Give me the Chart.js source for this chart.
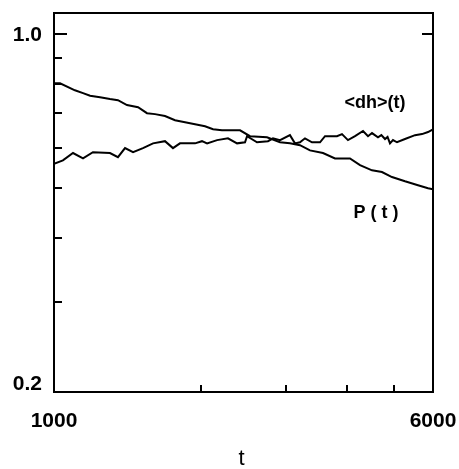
<!DOCTYPE html>
<html>
<head>
<meta charset="utf-8">
<script src="https://cdn.jsdelivr.net/npm/chart.js@4.4.0/dist/chart.umd.min.js"></script>
<style>
html,body{margin:0;padding:0;background:#fff;}
canvas{display:block;}
</style>
</head>
<body>
<canvas id="c" width="459" height="469"></canvas>
<script>
// ---- data ----
const pT = [1000,1029,1104,1147,1186,1243,1303,1353,1412,1488,1552,1612,1690,1772,1858,1948,2042,2121,2212,2410,2526,2737,2911,3051,3199,3354,3567,3775,4052,4249,4497,4714,4942,5256,5589,5861,6000];
const pVal = [0.802,0.802,0.777,0.767,0.758,0.753,0.747,0.743,0.727,0.720,0.701,0.698,0.692,0.679,0.673,0.667,0.661,0.652,0.649,0.649,0.632,0.629,0.615,0.612,0.607,0.593,0.586,0.572,0.572,0.555,0.542,0.538,0.526,0.516,0.507,0.500,0.498];
const dhT = [1000,1043,1094,1147,1202,1303,1353,1399,1453,1523,1597,1690,1755,1814,1948,2013,2062,2162,2276,2376,2467,2491,2611,2750,2816,2911,3051,3124,3199,3276,3386,3517,3601,3811,3902,4014,4150,4310,4413,4497,4626,4700,4782,4840,4896,4966,5061,5256,5511,5696,5861,6000];
const dhVal = [0.558,0.567,0.586,0.572,0.588,0.586,0.575,0.599,0.588,0.599,0.612,0.618,0.599,0.612,0.612,0.618,0.612,0.621,0.626,0.612,0.615,0.632,0.615,0.618,0.626,0.621,0.635,0.612,0.615,0.626,0.615,0.615,0.632,0.632,0.638,0.621,0.632,0.647,0.632,0.641,0.629,0.635,0.624,0.630,0.612,0.621,0.615,0.624,0.635,0.638,0.644,0.652];
const xMin = 1000, xMax = 6000;
const yMin = 0.2, yMax = 1.1;
const yTicks = [0.3,0.4,0.5,0.6,0.7,0.8,0.9,1.0];
const xTicks = [2000,3000,4000,5000];
const xLabels = [1000, 6000];
const yLabels = [{v:1.0, text:'1.0'},{v:0.2, text:'0.2'}];
const seriesLabels = [{text:'<dh>(t)', t:4561, v:0.733}, {text:'P ( t )', t:4580, v:0.447}];
const xTitle = 't';

const toXY = (ts, vs) => ts.map((t,i)=>({x:t, y:vs[i]}));

const framePlugin = {
  id:'frame',
  afterDatasetsDraw(chart){
    const ctx = chart.ctx, a = chart.chartArea;
    const xs = chart.scales.x, ys = chart.scales.y;
    ctx.save();
    ctx.strokeStyle = '#000';
    ctx.lineWidth = 2;
    ctx.strokeRect(a.left, a.top, a.right-a.left, a.bottom-a.top);
    ctx.beginPath();
    yTicks.forEach(v=>{
      const y = Math.round(ys.getPixelForValue(v));
      const len = (v===1.0) ? 13 : 8;
      ctx.moveTo(a.left, y); ctx.lineTo(a.left+len, y);
    });
    const y1 = Math.round(ys.getPixelForValue(1.0));
    ctx.moveTo(a.right, y1); ctx.lineTo(a.right-11, y1);
    xTicks.forEach(t=>{
      const x = Math.round(xs.getPixelForValue(t));
      ctx.moveTo(x, a.bottom); ctx.lineTo(x, a.bottom-7);
    });
    ctx.stroke();
    ctx.fillStyle = '#000';
    ctx.font = 'bold 21px "Liberation Sans", Arial, sans-serif';
    ctx.textAlign = 'right'; ctx.textBaseline = 'middle';
    yLabels.forEach(l=>{
      let y = ys.getPixelForValue(l.v);
      if (l.v === yMin) y -= 9;
      ctx.fillText(l.text, a.left-12, y+1);
    });
    ctx.textAlign = 'center';
    xLabels.forEach(t=>{
      ctx.fillText(String(t), xs.getPixelForValue(t), a.bottom+29);
    });
    ctx.font = '22px "Liberation Sans", Arial, sans-serif';
    ctx.fillText(xTitle, (a.left+a.right)/2 - 2, a.bottom+67);
    ctx.font = 'bold 18px "Liberation Sans", Arial, sans-serif';
    seriesLabels.forEach(l=>{
      ctx.fillText(l.text, xs.getPixelForValue(l.t), ys.getPixelForValue(l.v));
    });
    ctx.restore();
  }
};

new Chart(document.getElementById('c'), {
  type:'line',
  data:{
    datasets:[
      {label:'P(t)', data:toXY(pT,pVal), borderColor:'#000', borderWidth:2, pointRadius:0, tension:0, fill:false},
      {label:'<dh>(t)', data:toXY(dhT,dhVal), borderColor:'#000', borderWidth:2, pointRadius:0, tension:0, fill:false}
    ]
  },
  options:{
    responsive:false,
    animation:false,
    layout:{padding:{left:54, top:13, right:26, bottom:77}},
    plugins:{legend:{display:false}, tooltip:{enabled:false}},
    scales:{
      x:{type:'logarithmic', min:xMin, max:xMax, display:false},
      y:{type:'logarithmic', min:yMin, max:yMax, display:false}
    }
  },
  plugins:[framePlugin]
});
</script>
</body>
</html>
